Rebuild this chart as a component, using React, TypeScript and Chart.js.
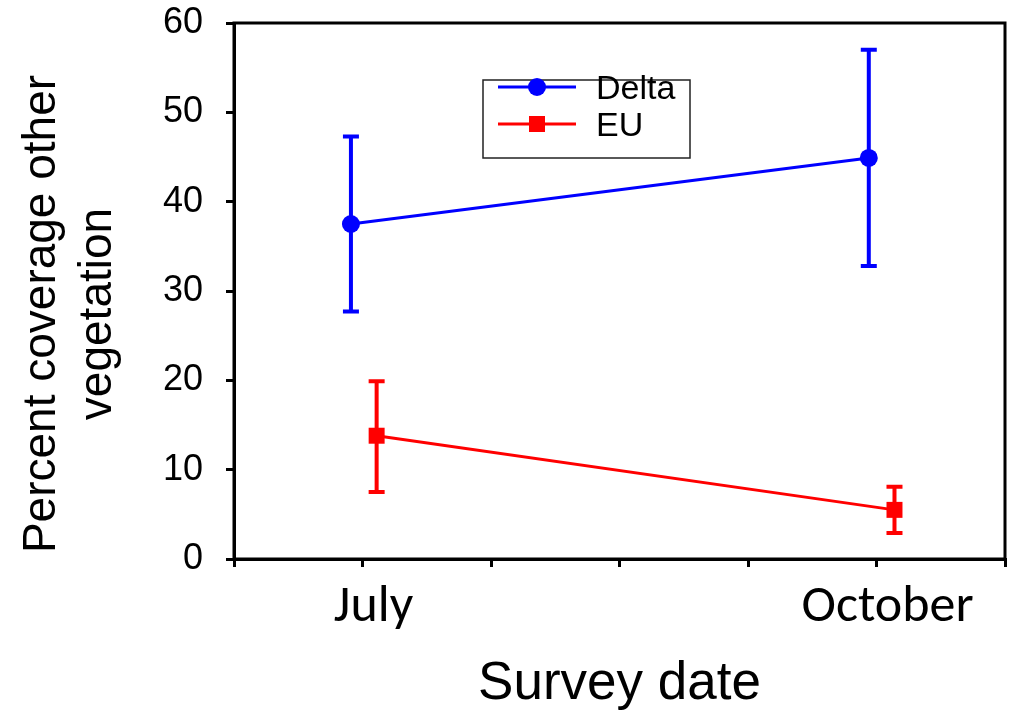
import React, { useEffect, useRef } from 'react';
import { Chart, registerables } from 'chart.js';

Chart.register(...registerables);

// ---- data ----
const seriesNames = ['Delta', 'EU'];
const seriesColors = ['#0000FF', '#FF0000'];
const seriesPointStyles = ['circle', 'rect'];

const deltaX = [0.91, 4.94];
const deltaMean = [37.5, 44.9];
const deltaLow = [27.7, 32.8];
const deltaHigh = [47.3, 57.0];

const euX = [1.11, 5.14];
const euMean = [13.8, 5.5];
const euLow = [7.5, 2.9];
const euHigh = [19.9, 8.1];

const xTickValues = [0, 1, 2, 3, 4, 5, 6];
const xTickLabels = ['', 'July', '', '', '', 'October', ''];
const yMin = 0;
const yMax = 60;
const yStep = 10;

const yTitleLines = ['Percent coverage other', 'vegetation'];
const xTitle = 'Survey date';

const errLows = [deltaLow, euLow];
const errHighs = [deltaHigh, euHigh];

const ARIAL = '"Liberation Sans", Arial, sans-serif';
const CALIBRI = 'Carlito, Calibri, Lato, sans-serif';

const errorBarPlugin = {
  id: 'errorBars',
  beforeDatasetsDraw(chart: any) {
    const ctx = chart.ctx;
    const xs = chart.scales.x;
    const ys = chart.scales.y;
    chart.data.datasets.forEach((ds: any, i: number) => {
      const lows = errLows[i];
      const highs = errHighs[i];
      ctx.save();
      ctx.strokeStyle = ds.borderColor;
      ctx.lineWidth = 4;
      ds.data.forEach((p: any, j: number) => {
        const px = xs.getPixelForValue(p.x);
        const yl = ys.getPixelForValue(lows[j]);
        const yh = ys.getPixelForValue(highs[j]);
        ctx.beginPath();
        ctx.moveTo(px, yl);
        ctx.lineTo(px, yh);
        ctx.moveTo(px - 8, yl);
        ctx.lineTo(px + 8, yl);
        ctx.moveTo(px - 8, yh);
        ctx.lineTo(px + 8, yh);
        ctx.stroke();
      });
      ctx.restore();
    });
  },
};

const framePlugin = {
  id: 'frameAndTitles',
  afterDraw(chart: any) {
    const ctx = chart.ctx;
    const a = chart.chartArea;
    ctx.save();
    ctx.strokeStyle = '#000';
    ctx.lineWidth = 3;
    ctx.strokeRect(a.left, a.top, a.right - a.left, a.bottom - a.top);

    // y title (two lines, rotated)
    ctx.fillStyle = '#000';
    ctx.font = `46px ${ARIAL}`;
    ctx.textAlign = 'center';
    ctx.textBaseline = 'middle';
    const cy = (a.top + a.bottom) / 2 + 23;
    yTitleLines.forEach((line, k) => {
      ctx.save();
      ctx.translate(42 + k * 56, cy);
      ctx.rotate(-Math.PI / 2);
      ctx.fillText(line, 0, 0);
      ctx.restore();
    });

    // legend
    const lx = 483, ly = 80, lw = 207, lh = 78;
    ctx.lineWidth = 1.5;
    ctx.strokeStyle = '#222';
    ctx.strokeRect(lx, ly, lw, lh);
    chart.data.datasets.forEach((ds: any, i: number) => {
      const yy = 87 + 37 * i;
      ctx.strokeStyle = ds.borderColor;
      ctx.fillStyle = ds.borderColor;
      ctx.lineWidth = 3;
      ctx.beginPath();
      ctx.moveTo(498, yy);
      ctx.lineTo(576, yy);
      ctx.stroke();
      if (ds.pointStyle === 'circle') {
        ctx.beginPath();
        ctx.arc(537, yy, 9, 0, Math.PI * 2);
        ctx.fill();
      } else {
        ctx.fillRect(529, yy - 8, 16, 16);
      }
      ctx.fillStyle = '#000';
      ctx.font = `34px ${ARIAL}`;
      ctx.textAlign = 'left';
      ctx.textBaseline = 'middle';
      ctx.fillText(ds.label, 596, yy + 3);
    });
    ctx.restore();
  },
};

export default function App() {
  const ref = useRef<HTMLCanvasElement | null>(null);

  useEffect(() => {
    if (!ref.current) return;
    const xs = [deltaX, euX];
    const ms = [deltaMean, euMean];
    const chart = new Chart(ref.current, {
      type: 'line',
      data: {
        datasets: seriesNames.map((name, i) => ({
          label: name,
          data: xs[i].map((x, j) => ({ x, y: ms[i][j] })),
          borderColor: seriesColors[i],
          backgroundColor: seriesColors[i],
          borderWidth: 3,
          pointStyle: seriesPointStyles[i] as any,
          pointRadius: i === 0 ? 9 : 11.3,
          pointBorderWidth: 0,
          pointBackgroundColor: seriesColors[i],
          tension: 0,
          clip: false as any,
        })),
      },
      options: {
        animation: false,
        responsive: true,
        maintainAspectRatio: false,
        layout: { padding: { top: 23, right: 16, left: 0, bottom: 0 } },
        plugins: {
          legend: { display: false },
          tooltip: { enabled: false },
        },
        scales: {
          x: {
            type: 'linear',
            min: xTickValues[0],
            max: xTickValues[xTickValues.length - 1],
            afterFit: (s: any) => { s.height = 151; s.paddingLeft = 0; s.paddingRight = 0; },
            afterBuildTicks: (s: any) => { s.ticks = xTickValues.map((v) => ({ value: v })); },
            ticks: {
              stepSize: 1,
              autoSkip: false,
              maxRotation: 0,
              color: '#000',
              padding: 10,
              labelOffset: 11,
              font: { family: CALIBRI, size: 52 },
              callback: (v: any) => xTickLabels[xTickValues.indexOf(Number(v))] ?? '',
            },
            grid: { drawOnChartArea: false, drawTicks: true, tickLength: 8, color: '#000', lineWidth: 3 },
            border: { display: true, color: '#000', width: 3 },
            title: {
              display: true,
              text: xTitle,
              color: '#000',
              font: { family: ARIAL, size: 53, lineHeight: 1.2 },
              padding: { top: 0, bottom: -6 },
            },
          },
          y: {
            type: 'linear',
            min: yMin,
            max: yMax,
            afterFit: (s: any) => { s.width = 234; s.paddingTop = 0; s.paddingBottom = 0; },
            ticks: {
              stepSize: yStep,
              color: '#000',
              padding: 23,
              font: { family: ARIAL, size: 36 },
            },
            grid: { drawOnChartArea: false, drawTicks: true, tickLength: 8, color: '#000', lineWidth: 3 },
            border: { display: true, color: '#000', width: 3 },
            title: { display: false },
          },
        },
      },
      plugins: [errorBarPlugin, framePlugin],
    });
    return () => chart.destroy();
  }, []);

  return (
    <div style={{ position: 'fixed', left: 0, top: 0, width: 1021, height: 710, background: '#fff' }}>
      <canvas ref={ref} />
    </div>
  );
}
